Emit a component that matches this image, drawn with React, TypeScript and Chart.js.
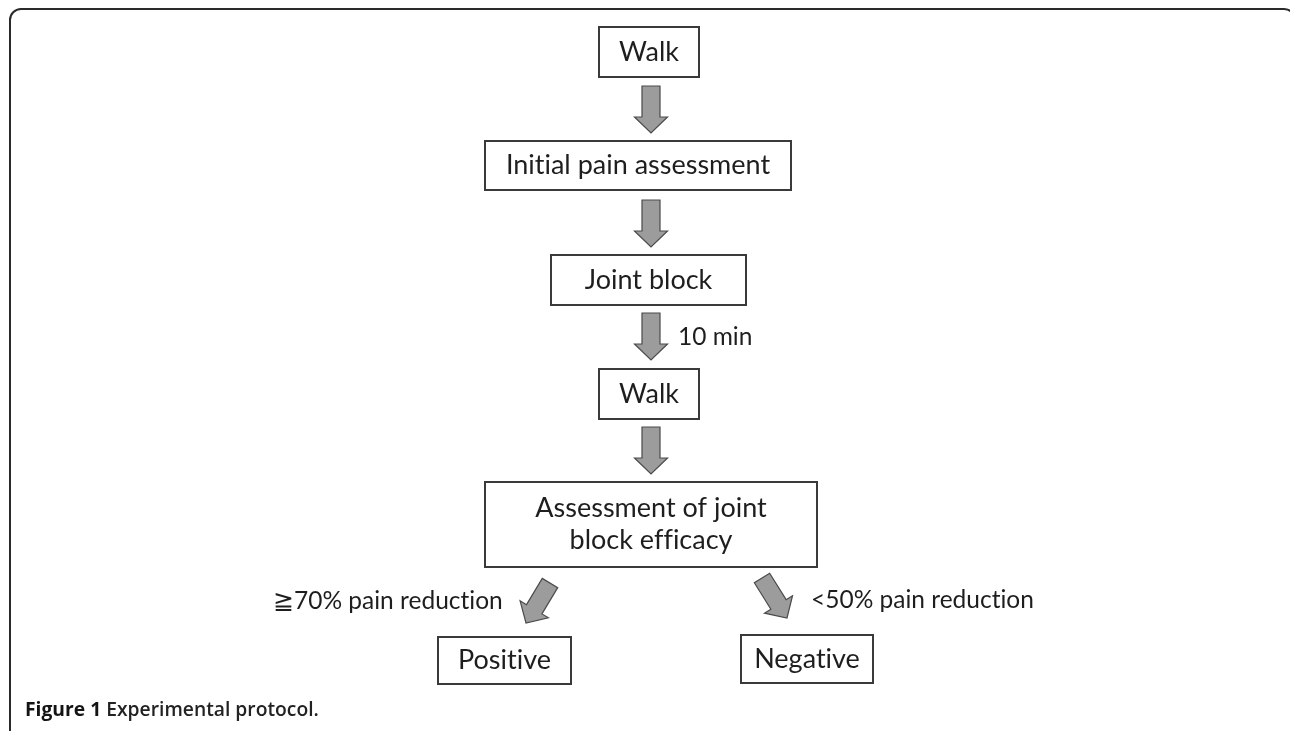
import React, { useEffect, useRef } from "react";
import { Chart, registerables } from "chart.js";

Chart.register(...registerables);

// ---- data (flowchart nodes in pixel-like chart units) ----
const nodeLabels = ["Walk", "Initial pain assessment", "Joint block", "Walk", "Assessment of joint\nblock efficacy", "Positive", "Negative"];
const nodeX = [649, 638, 648.5, 649, 651, 504.5, 807];
const nodeY = [52, 165.5, 280, 394, 524.5, 660.5, 659];
const nodeW = [100, 306, 195, 100, 332, 133, 132];
const nodeH = [50, 49, 50, 50, 85, 47, 48];

// arrows: tail (x0,y0) -> tip (x1,y1)
const arrowX0 = [651, 651, 651, 651, 550, 762];
const arrowY0 = [86, 200, 313, 427, 583, 578];
const arrowX1 = [651, 651, 651, 651, 526, 787];
const arrowY1 = [133, 247, 360, 474, 623, 618];

const noteLabels = ["10 min", "≧70% pain reduction", "<50% pain reduction"];
const noteX = [678, 273, 811];
const noteY = [337, 601, 600];

const captionBold = "Figure 1";
const captionText = " Experimental protocol.";

const W = 1290;
const H = 731;

const flowPlugin = {
  id: "flow",
  afterDatasetsDraw(chart: any) {
    const ctx = chart.ctx as any;
    const xs = chart.scales.x;
    const ys = chart.scales.y;
    const px = (v: number) => xs.getPixelForValue(v);
    const py = (v: number) => ys.getPixelForValue(v);
    ctx.save();
    try { ctx.textRendering = "optimizeSpeed"; } catch (e) {}

    // frame
    ctx.strokeStyle = "#2a2a2a";
    ctx.lineWidth = 2;
    ctx.beginPath();
    const fx0 = px(10), fy0 = py(9), fx1 = px(1295), fy1 = py(741), r = 11;
    ctx.moveTo(fx0 + r, fy0);
    ctx.lineTo(fx1 - r, fy0);
    ctx.arcTo(fx1, fy0, fx1, fy0 + r, r);
    ctx.lineTo(fx1, fy1 - r);
    ctx.arcTo(fx1, fy1, fx1 - r, fy1, r);
    ctx.lineTo(fx0 + r, fy1);
    ctx.arcTo(fx0, fy1, fx0, fy1 - r, r);
    ctx.lineTo(fx0, fy0 + r);
    ctx.arcTo(fx0, fy0, fx0 + r, fy0, r);
    ctx.stroke();

    // boxes
    ctx.textAlign = "center";
    ctx.textBaseline = "middle";
    for (let i = 0; i < nodeLabels.length; i++) {
      const x0 = px(nodeX[i] - nodeW[i] / 2);
      const x1 = px(nodeX[i] + nodeW[i] / 2);
      const y0 = py(nodeY[i] - nodeH[i] / 2);
      const y1 = py(nodeY[i] + nodeH[i] / 2);
      ctx.fillStyle = "#ffffff";
      ctx.fillRect(x0, y0, x1 - x0, y1 - y0);
      ctx.strokeStyle = "#3a3a3a";
      ctx.lineWidth = 2;
      ctx.strokeRect(x0, y0, x1 - x0, y1 - y0);
      ctx.fillStyle = "#1e1e1e";
      ctx.font = "27px Lato";
      const lines = nodeLabels[i].split("\n");
      const lh = 32;
      const cx = (x0 + x1) / 2;
      const cy = (y0 + y1) / 2;
      lines.forEach((ln, k) => {
        ctx.fillText(ln, cx, cy + (k - (lines.length - 1) / 2) * lh);
      });
    }

    // arrows
    for (let i = 0; i < arrowX0.length; i++) {
      const ax0 = px(arrowX0[i]), ay0 = py(arrowY0[i]);
      const ax1 = px(arrowX1[i]), ay1 = py(arrowY1[i]);
      const len = Math.hypot(ax1 - ax0, ay1 - ay0);
      const ang = Math.atan2(ay1 - ay0, ax1 - ax0);
      const sw = 9, hw = 16.5, hl = 16;
      ctx.save();
      ctx.translate(ax0, ay0);
      ctx.rotate(ang);
      ctx.beginPath();
      ctx.moveTo(0, -sw);
      ctx.lineTo(len - hl, -sw);
      ctx.lineTo(len - hl, -hw);
      ctx.lineTo(len, 0);
      ctx.lineTo(len - hl, hw);
      ctx.lineTo(len - hl, sw);
      ctx.lineTo(0, sw);
      ctx.closePath();
      ctx.fillStyle = "#9c9c9c";
      ctx.fill();
      ctx.strokeStyle = "#4a4a4a";
      ctx.lineWidth = 1.2;
      ctx.stroke();
      ctx.restore();
    }

    // notes
    ctx.textAlign = "left";
    ctx.fillStyle = "#1e1e1e";
    ctx.font = "24.5px Lato";
    for (let i = 0; i < noteLabels.length; i++) {
      ctx.fillText(noteLabels[i], px(noteX[i]), py(noteY[i]));
    }

    // caption
    const capX = px(25), capY = py(711);
    ctx.font = "700 19.3px 'Open Sans'";
    ctx.fillStyle = "#141414";
    ctx.fillText(captionBold, capX, capY);
    const bw = ctx.measureText(captionBold).width;
    ctx.font = "650 19.3px 'Open Sans'";
    ctx.fillStyle = "#222222";
    ctx.fillText(captionText, capX + bw, capY);

    ctx.restore();
  },
};

export default function App() {
  const ref = useRef<HTMLCanvasElement | null>(null);
  useEffect(() => {
    if (!ref.current) return;
    const chart = new Chart(ref.current, {
      type: "scatter",
      data: {
        datasets: [
          {
            label: "nodes",
            data: nodeX.map((x, i) => ({ x, y: nodeY[i] })),
            pointRadius: 0,
          },
        ],
      },
      options: {
        animation: false,
        responsive: false,
        maintainAspectRatio: false,
        layout: { padding: 0 },
        plugins: { legend: { display: false }, tooltip: { enabled: false } },
        events: [],
        scales: {
          x: { type: "linear", min: 0, max: W, display: false },
          y: { type: "linear", min: 0, max: H, reverse: true, display: false },
        },
      },
      plugins: [flowPlugin],
    });
    return () => chart.destroy();
  }, []);
  return (
    <div style={{ position: "absolute", left: 0, top: 0, width: W, height: H, background: "#fff" }}>
      <canvas ref={ref} width={W} height={H} style={{ display: "block" }} />
    </div>
  );
}
